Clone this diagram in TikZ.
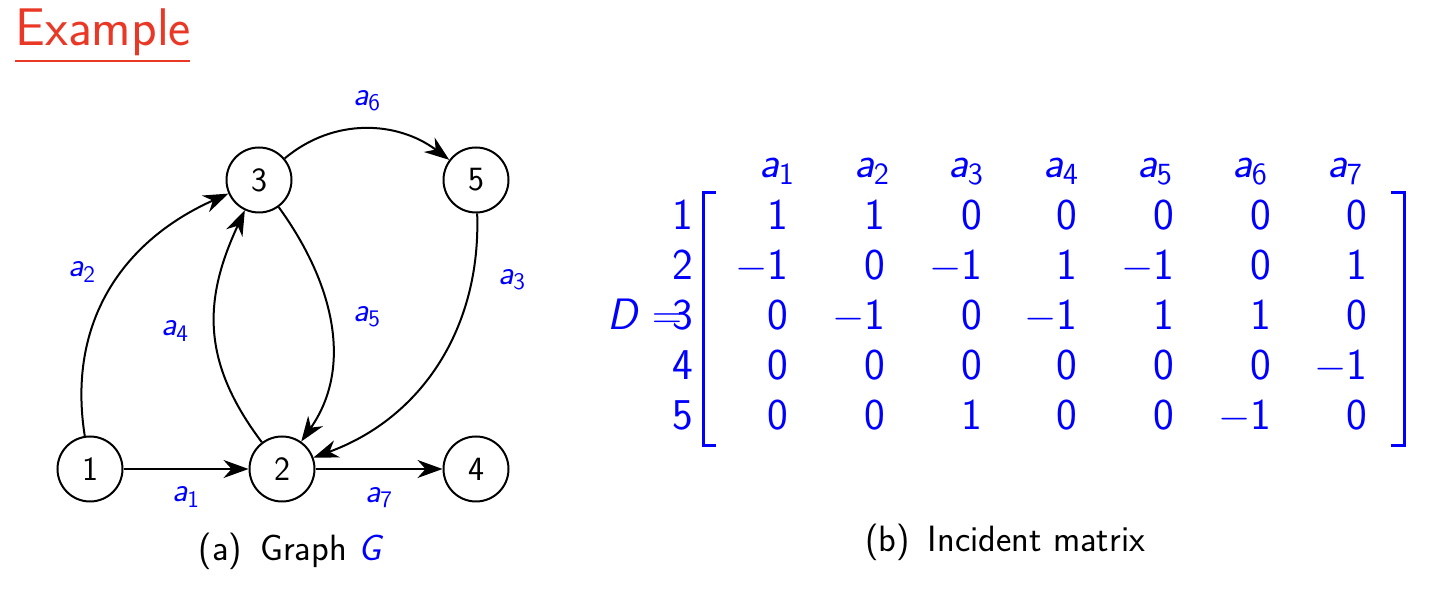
\documentclass[tikz,border=0pt]{standalone}
\usepackage{amsmath}
\usetikzlibrary{arrows.meta}
\definecolor{titlered}{RGB}{233,56,38}
\definecolor{lblue}{RGB}{0,0,255}
\newcommand{\sav}[1]{\textsf{\itshape a}_{\textsf{#1}}}
\newcommand{\mneg}{$-$}
\begin{document}
\begin{tikzpicture}[x=0.5pt,y=0.5pt,
  font=\sffamily,
  vtx/.style={draw,circle,line width=1pt,minimum size=32.5pt,inner sep=0pt,font=\sffamily\fontsize{17}{17}\selectfont},
  arc/.style={line width=1pt,-{Stealth[length=12.5pt,width=9pt,inset=4pt]}},
  elab/.style={text=lblue,inner sep=0pt,font=\fontsize{17}{17}\selectfont},
  ent/.style={text=lblue,inner sep=0pt,anchor=base east,font=\sffamily\fontsize{22}{22}\selectfont},
  hdr/.style={text=lblue,inner sep=0pt,anchor=base,font=\fontsize{22}{22}\selectfont},
  brk/.style={draw=lblue,line width=1.5pt},
  captext/.style={inner sep=0pt,font=\sffamily\fontsize{18.3}{18.3}\selectfont}]
\useasboundingbox (0,0) rectangle (1448,616);
% title
\node[anchor=base west,inner sep=0pt,text=titlered,font=\sffamily\fontsize{26.5}{26.5}\selectfont] (title) at (15,570) {Example};
\coordinate (ul1) at (15,555);
\coordinate (ul2) at (190,555);
\draw[titlered,line width=1pt] (ul1) -- (ul2);
% graph
\node[vtx] (n1) at (90,147) {1};
\node[vtx] (n2) at (282,147) {2};
\node[vtx] (n4) at (476,147) {4};
\node[vtx] (n3) at (259,436) {3};
\node[vtx] (n5) at (476,436) {5};
\draw[arc] (n1) -- (n2);
\draw[arc] (n2) -- (n4);
\draw[arc] (n1) to[out=99,in=204,looseness=1.05] (n3);
\draw[arc] (n2) to[out=127,in=245,looseness=1.1] (n3);
\draw[arc] (n3) to[out=-54,in=55] (n2);
\draw[arc] (n5) to[out=272,in=20] (n2);
\draw[arc] (n3) to[out=40,in=143] (n5);
\node[elab] (l1) at (186,119) {$\sav{1}$};
\node[elab] (l7) at (379,118) {$\sav{7}$};
\node[elab] (l2) at (82,344) {$\sav{2}$};
\node[elab] (l4) at (175,285) {$\sav{4}$};
\node[elab] (l5) at (367,299) {$\sav{5}$};
\node[elab] (l3) at (512,336) {$\sav{3}$};
\node[elab] (l6) at (367,515) {$\sav{6}$};
\node[captext] (capa) at (290,65) {(a)\enspace Graph \textcolor{lblue}{\itshape G}};
% matrix
\node[hdr] (h1) at (777,438) {$\sav{1}$};
\node[hdr] (h2) at (872,438) {$\sav{2}$};
\node[hdr] (h3) at (966,438) {$\sav{3}$};
\node[hdr] (h4) at (1061,438) {$\sav{4}$};
\node[hdr] (h5) at (1155,438) {$\sav{5}$};
\node[hdr] (h6) at (1250,438) {$\sav{6}$};
\node[hdr] (h7) at (1345,438) {$\sav{7}$};
% row labels
\node[ent] (r1) at (694,386) {1};
\node[ent] (r2) at (694,336) {2};
\node[ent] (r3) at (694,286) {3};
\node[ent] (r4) at (694,236) {4};
\node[ent] (r5) at (694,186) {5};
\node[ent,anchor=base] (dd) at (622,286) {\itshape D};
\node[text=lblue,inner sep=0pt,font=\fontsize{22}{22}\selectfont] (eq) at (667,295) {$=$};
% entries
\node[ent] (m11) at (789,386) {1};
\node[ent] (m12) at (886,386) {1};
\node[ent] (m13) at (983,386) {0};
\node[ent] (m14) at (1078,386) {0};
\node[ent] (m15) at (1175,386) {0};
\node[ent] (m16) at (1272,386) {0};
\node[ent] (m17) at (1368,386) {0};
\node[ent] (m21) at (789,336) {\mneg1};
\node[ent] (m22) at (886,336) {0};
\node[ent] (m23) at (983,336) {\mneg1};
\node[ent] (m24) at (1078,336) {1};
\node[ent] (m25) at (1175,336) {\mneg1};
\node[ent] (m26) at (1272,336) {0};
\node[ent] (m27) at (1368,336) {1};
\node[ent] (m31) at (789,286) {0};
\node[ent] (m32) at (886,286) {\mneg1};
\node[ent] (m33) at (983,286) {0};
\node[ent] (m34) at (1078,286) {\mneg1};
\node[ent] (m35) at (1175,286) {1};
\node[ent] (m36) at (1272,286) {1};
\node[ent] (m37) at (1368,286) {0};
\node[ent] (m41) at (789,236) {0};
\node[ent] (m42) at (886,236) {0};
\node[ent] (m43) at (983,236) {0};
\node[ent] (m44) at (1078,236) {0};
\node[ent] (m45) at (1175,236) {0};
\node[ent] (m46) at (1272,236) {0};
\node[ent] (m47) at (1368,236) {\mneg1};
\node[ent] (m51) at (789,186) {0};
\node[ent] (m52) at (886,186) {0};
\node[ent] (m53) at (983,186) {1};
\node[ent] (m54) at (1078,186) {0};
\node[ent] (m55) at (1175,186) {0};
\node[ent] (m56) at (1272,186) {\mneg1};
\node[ent] (m57) at (1368,186) {0};
% brackets
\coordinate (bl1) at (716,423);
\coordinate (bl2) at (703,423);
\coordinate (bl3) at (703,170);
\coordinate (bl4) at (716,170);
\draw[brk] (bl1) -- (bl2) -- (bl3) -- (bl4);
\coordinate (br1) at (1391,423);
\coordinate (br2) at (1404,423);
\coordinate (br3) at (1404,170);
\coordinate (br4) at (1391,170);
\draw[brk] (br1) -- (br2) -- (br3) -- (br4);
\node[captext] (capb) at (1005,74) {(b)\enspace Incident matrix};
\end{tikzpicture}
\end{document}
